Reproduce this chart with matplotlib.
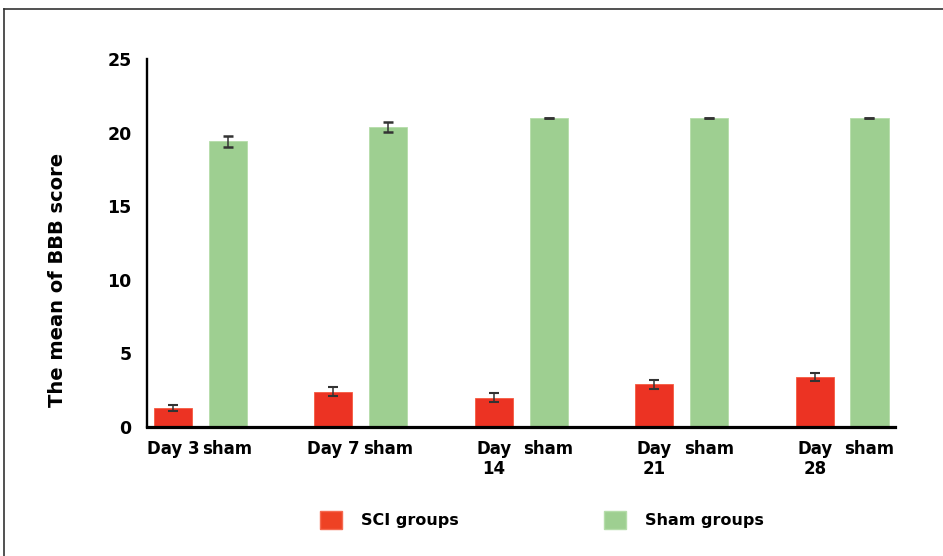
import matplotlib.pyplot as plt
import numpy as np
from matplotlib.lines import Line2D
from matplotlib.patches import Patch

# BBB score per time point
days = ["Day 3", "Day 7", "Day\n14", "Day\n21", "Day\n28"]
sci_mean = [1.3, 2.4, 2.0, 2.9, 3.4]
sci_err = [0.2, 0.3, 0.3, 0.3, 0.3]
sham_mean = [19.4, 20.4, 21.0, 21.0, 21.0]
sham_err = [0.4, 0.35, 0.0, 0.0, 0.0]

red = "#EC3323"
green = "#9ECF91"

plt.rcParams['font.family'] = ['DejaVu Sans']
plt.rcParams['font.weight'] = 'bold'

fig = plt.figure(figsize=(9.43, 5.56), dpi=100)
ax = fig.add_axes([147 / 943, 1 - 427 / 556, 748 / 943, 368 / 556])

x = np.arange(len(days))
w = 0.237
off = 0.17

ax.bar(x - off, sci_mean, w, color=red, edgecolor="#F55A40", linewidth=0.6, zorder=2)
ax.bar(x + off, sham_mean, w, color=green, edgecolor="#B5DDAA", linewidth=0.6, zorder=2)
ax.errorbar(x - off, sci_mean, yerr=sci_err, fmt="none", ecolor="#333333",
            elinewidth=1.1, capsize=3.6, capthick=1.5, zorder=3)
ax.errorbar(x + off, sham_mean, yerr=sham_err, fmt="none", ecolor="#333333",
            elinewidth=1.1, capsize=3.6, capthick=1.8, zorder=3)

ax.set_xlim(-0.332, 4.329)
ax.set_ylim(0, 25)
ax.set_yticks([0, 5, 10, 15, 20, 25])

ticks = np.concatenate([x - off, x + off])
labels = list(days) + ["sham"] * len(days)
ax.set_xticks(ticks)
ax.set_xticklabels(labels)
ax.tick_params(axis="x", length=0, pad=9, labelsize=12)
ax.tick_params(axis="y", length=0, pad=11, labelsize=12.5)

for s in ["top", "right"]:
    ax.spines[s].set_visible(False)
ax.spines["left"].set_linewidth(1.7)
ax.spines["bottom"].set_linewidth(2.3)

fig.text(58 / 943, 1 - 280 / 556, "The mean of BBB score", rotation=90,
         ha="center", va="center", fontsize=14, fontweight="bold")

handles = [Patch(facecolor="#EE4224", edgecolor="#F56A50", label="SCI groups"),
           Patch(facecolor=green, edgecolor="#B5DDAA", label="Sham groups")]
fig.legend(handles=handles, loc="center", bbox_to_anchor=(542 / 943, 1 - 520 / 556),
           ncol=2, frameon=False, fontsize=11.5, handlelength=1.38, handleheight=1.38,
           handletextpad=1.2, columnspacing=9.1)

# outer frame lines (top and left)
fig.add_artist(Line2D([4 / 943, 1], [1 - 9 / 556, 1 - 9 / 556], color="#333333", lw=1.2))
fig.add_artist(Line2D([4 / 943, 4 / 943], [0, 1 - 9 / 556], color="#333333", lw=1.2))

fig.savefig("out.png", dpi=100)
